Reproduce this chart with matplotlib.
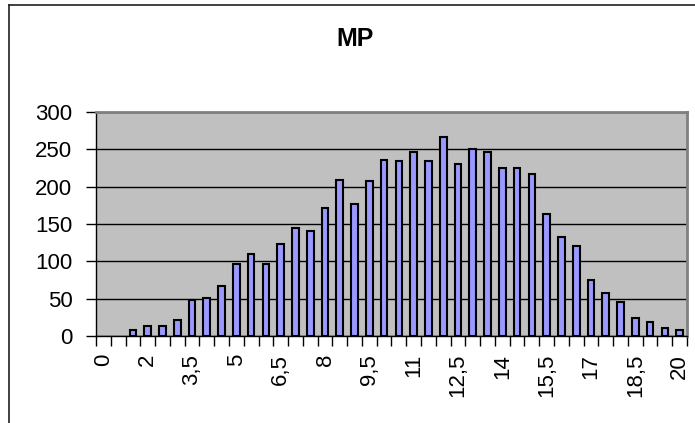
import numpy as np
import matplotlib.pyplot as plt
from matplotlib.lines import Line2D

plt.rcParams['font.family'] = ['Liberation Sans', 'DejaVu Sans']

# categories (x axis) and counts
categories = [0, 1, 1.5] + [2 + 0.5 * i for i in range(37)]
counts = [0, 0, 8, 13, 13, 21, 48, 51, 67, 97,
          110, 97, 123, 145, 140, 172, 209, 177, 207, 236,
          234, 247, 234, 266, 231, 250, 247, 225, 225, 217,
          164, 132, 121, 75, 57, 46, 24, 19, 11, 8]
label_every = 3

def fmt(v):
    s = ('%g' % v)
    return s.replace('.', ',')

fig = plt.figure(figsize=(6.95, 4.23), dpi=100)
ax = fig.add_axes([0.1381, 0.2057, 0.8504, 0.5295])
ax.set_facecolor('#C0C0C0')

x = np.arange(len(categories))
vals = np.array(counts, dtype=float)
keep = vals > 0  # empty categories draw nothing
ax.bar(x[keep], vals[keep], width=0.45, color='#9999FF', edgecolor='black',
       linewidth=1.5, zorder=3)

ax.set_xlim(-0.5, len(categories) - 0.5)
ax.set_ylim(0, 300)
ax.set_yticks(np.arange(0, 301, 50))
ax.yaxis.grid(True, color='black', linewidth=1, zorder=1)

# x: ticks at category boundaries, labels at every 3rd category
ax.set_xticks(np.arange(-0.5, len(categories), 1))
ax.set_xticklabels([])
ax.set_xticks(x[::label_every], minor=True)
ax.set_xticklabels([fmt(categories[i]) for i in x[::label_every]],
                   minor=True, rotation=90, fontsize=16, va='top')
ax.tick_params(axis='x', which='major', direction='out', length=7,
               width=1, color='black')
ax.tick_params(axis='x', which='minor', length=0, pad=13)
ax.tick_params(axis='y', direction='out', length=7, width=1,
               labelsize=16, pad=10)

for side in ['top', 'right']:
    ax.spines[side].set_color('#808080')
    ax.spines[side].set_linewidth(2)
for side in ['left', 'bottom']:
    ax.spines[side].set_color('black')
    ax.spines[side].set_linewidth(1)

fig.text(355 / 695, 1 - 39 / 423, 'MP', ha='center', va='center',
         fontsize=18, fontweight='bold')

# chart area border
fig.add_artist(Line2D([9 / 695, 9 / 695], [0, 1 - 5 / 423],
                      color='#202020', linewidth=1.2))
fig.add_artist(Line2D([9 / 695, 1], [1 - 5 / 423, 1 - 5 / 423],
                      color='#202020', linewidth=1.2))

fig.savefig('out.png', dpi=100)
